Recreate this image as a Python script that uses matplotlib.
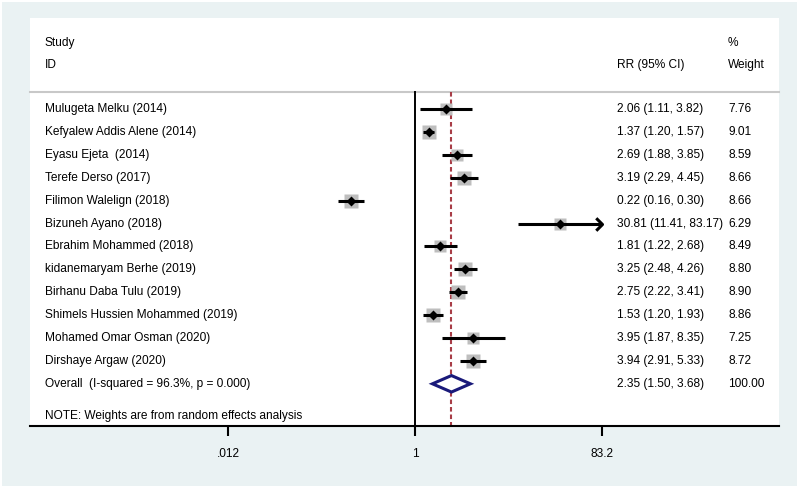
import matplotlib
matplotlib.use("Agg")
import matplotlib.pyplot as plt
from matplotlib.patches import Rectangle, Polygon
from matplotlib.path import Path
import matplotlib.transforms as mtransforms
import numpy as np

plt.rcParams['font.family'] = ['Liberation Sans', 'DejaVu Sans']

studies = ["Mulugeta Melku (2014)", "Kefyalew Addis Alene (2014)", "Eyasu Ejeta  (2014)",
           "Terefe Derso (2017)", "Filimon Walelign (2018)", "Bizuneh Ayano (2018)",
           "Ebrahim Mohammed (2018)", "kidanemaryam Berhe (2019)", "Birhanu Daba Tulu (2019)",
           "Shimels Hussien Mohammed (2019)", "Mohamed Omar Osman (2020)", "Dirshaye Argaw (2020)"]
rr = [2.06, 1.37, 2.69, 3.19, 0.22, 30.81, 1.81, 3.25, 2.75, 1.53, 3.95, 3.94]
lo = [1.11, 1.20, 1.88, 2.29, 0.16, 11.41, 1.22, 2.48, 2.22, 1.20, 1.87, 2.91]
hi = [3.82, 1.57, 3.85, 4.45, 0.30, 83.17, 2.68, 4.26, 3.41, 1.93, 8.35, 5.33]
weight = [7.76, 9.01, 8.59, 8.66, 8.66, 6.29, 8.49, 8.80, 8.90, 8.86, 7.25, 8.72]
overall_label = "Overall  (I-squared = 96.3%, p = 0.000)"
overall_rr, overall_lo, overall_hi, overall_w = 2.35, 1.50, 3.68, 100.00
xticks = [0.012, 1, 83.2]
xticklabels = [".012", "1", "83.2"]
note = "NOTE: Weights are from random effects analysis"

W, H = 800, 488
fig = plt.figure(figsize=(W/100, H/100), dpi=100)
fig.patch.set_facecolor('white')
fig.patches.append(Rectangle((2/W, 2/H), 795/W, 484/H, transform=fig.transFigure,
                             facecolor='#EAF2F3', edgecolor='none', zorder=-5))

L, R, T, B = 30, 779, 18, 426
ax = fig.add_axes([L/W, (H-B)/H, (R-L)/W, (B-T)/H])
ax.set_zorder(1)
ax.set_facecolor('white')
ax.set_xscale('log')
ppd = 97.4
x1 = 415.3
ax.set_xlim(10**((L-x1)/ppd), 10**((R-x1)/ppd))
row0, dy = 109, 22.9
ytop, ybot = (T-row0)/dy, (B-row0)/dy
ax.set_ylim(ybot, ytop)

fs = 8.6
for s in ['top', 'right', 'left']:
    ax.spines[s].set_visible(False)
ax.spines['bottom'].set_linewidth(1.5)
ax.set_yticks([])
ax.set_xticks(xticks)
ax.set_xticklabels(xticklabels)
ax.minorticks_off()
ax.tick_params(axis='x', which='major', direction='out', length=7, width=1.5,
               pad=9, labelsize=fs)
ax.tick_params(axis='x', which='minor', length=0)

blend = mtransforms.blended_transform_factory(ax.transAxes, ax.transData)
sep_y = (92-row0)/dy
ax.plot([0, 1], [sep_y, sep_y], transform=blend, color='#C8C8C8', lw=1.5, clip_on=False)

ax.text(0.02, (43-row0)/dy, "Study", transform=blend, va='center', fontsize=fs)
ax.text(0.02, (65-row0)/dy, "ID", transform=blend, va='center', fontsize=fs)
ax.text(0.7837, (65-row0)/dy, "RR (95% CI)", transform=blend, va='center', fontsize=fs)
ax.text(0.932, (43-row0)/dy, "%", transform=blend, va='center', fontsize=fs)
ax.text(0.932, (65-row0)/dy, "Weight", transform=blend, va='center', fontsize=fs)

# null line and overall line
ax.plot([1, 1], [sep_y, ybot], color='black', lw=1.4, zorder=2)
ax.plot([overall_rr, overall_rr], [sep_y, ybot], color='#A83D47', lw=1.5,
        dashes=(2.2, 1.4), zorder=2)

chevron = Path([(-1.0, 1.0), (0.0, 0.0), (-1.0, -1.0)],
               [Path.MOVETO, Path.LINETO, Path.LINETO])

xmax_clip = 80
for i, (name, r, l, h, w) in enumerate(zip(studies, rr, lo, hi, weight)):
    ax.text(0.02, i, name, transform=blend, va='center', fontsize=fs)
    ax.text(0.7837, i, f"{r:.2f} ({l:.2f}, {h:.2f})", transform=blend, va='center', fontsize=fs)
    ax.text(0.932, i, f"{w:.2f}", transform=blend, va='center', fontsize=fs)
    side = 13.3 * np.sqrt(w/9.01) * 0.72
    ax.plot([r], [i], marker='s', ms=side, color='#BEBEBE', mec='none', zorder=2)
    ax.plot([l, h], [i, i], color='black', lw=2.2, zorder=3, solid_capstyle='butt')
    if h >= xmax_clip:
        ax.plot([h], [i], marker=chevron, ms=9, mfc='none', mec='black', mew=2.2,
                zorder=3, clip_on=False)
    ax.plot([r], [i], marker='D', ms=5.3, color='black', mec='none', zorder=4)

yo = len(studies)
ax.text(0.02, yo, overall_label, transform=blend, va='center', fontsize=fs)
ax.text(0.7837, yo, f"{overall_rr:.2f} ({overall_lo:.2f}, {overall_hi:.2f})",
        transform=blend, va='center', fontsize=fs)
ax.text(0.932, yo, f"{overall_w:.2f}", transform=blend, va='center', fontsize=fs)
hh = 0.36
diamond = Polygon([[overall_lo, yo], [overall_rr, yo-hh], [overall_hi, yo], [overall_rr, yo+hh]],
                  closed=True, facecolor='white', edgecolor='#1A1A7A', lw=2.2, zorder=5)
ax.add_patch(diamond)

ax.text(0.02, (416-row0)/dy, note, transform=blend, va='center', fontsize=fs)

fig.savefig("out.png", dpi=100, facecolor=fig.get_facecolor())
